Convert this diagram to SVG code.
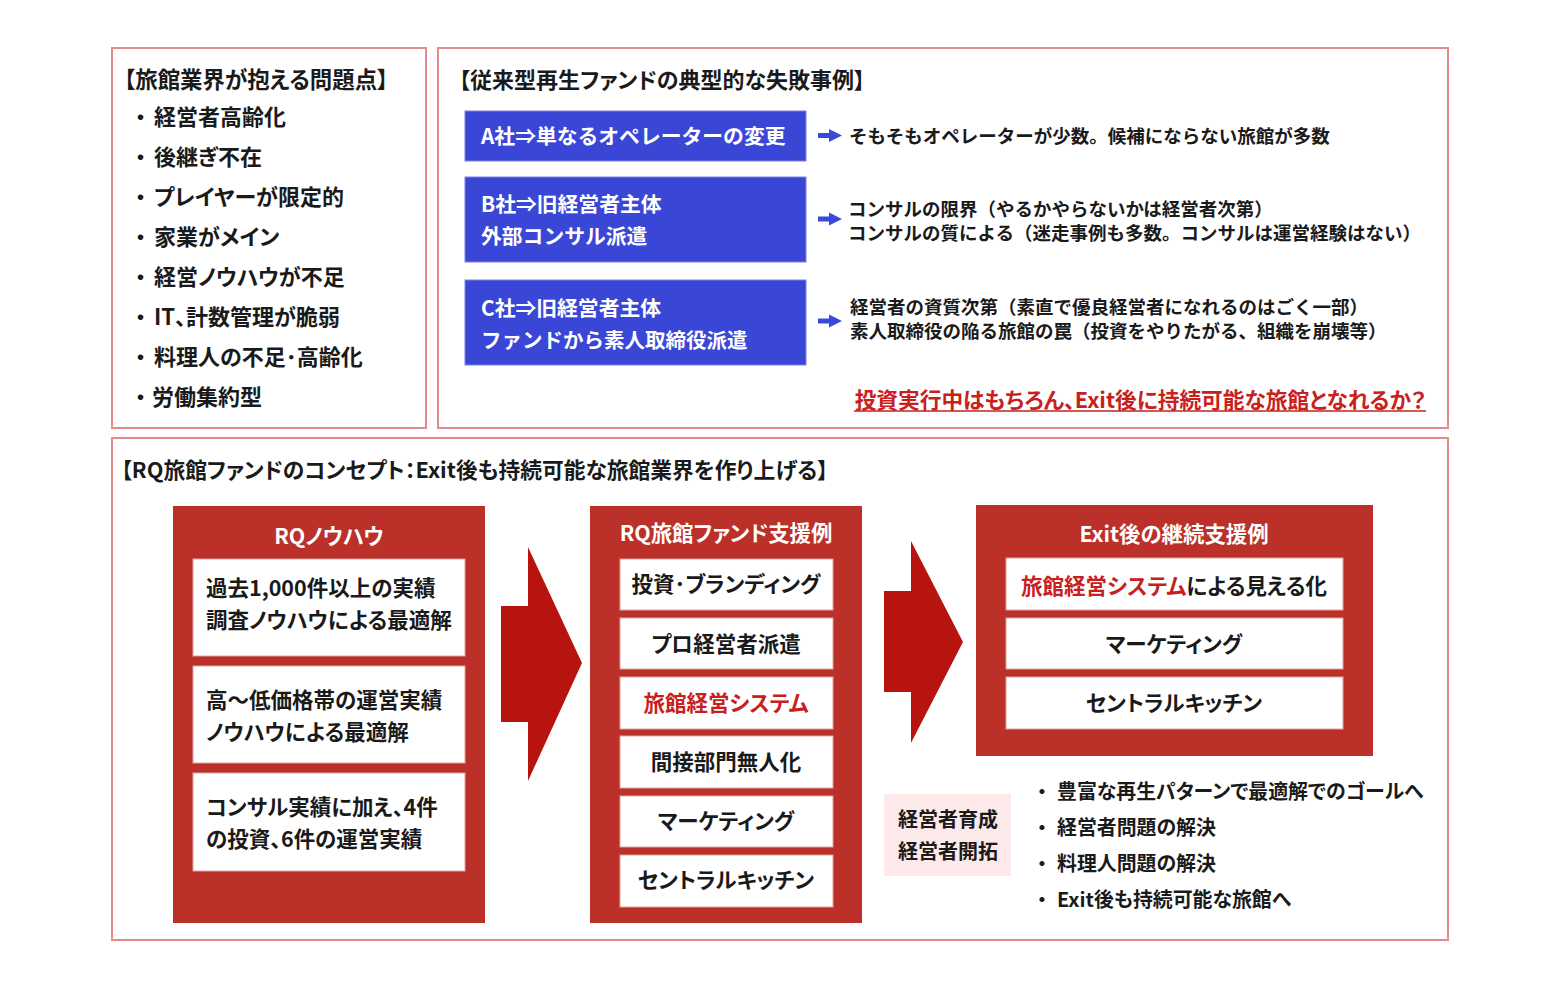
<svg xmlns="http://www.w3.org/2000/svg" width="1561" height="1000" viewBox="0 0 1561 1000">
<style>
text{font-family:"Noto Sans CJK JP","Noto Sans CJK SC",sans-serif;font-weight:700;fill:#1a1a1a;dominant-baseline:central;font-feature-settings:"palt" 1}
.frame{fill:#fff;stroke:#e38b8b;stroke-width:2}
.blue{fill:#3a47d6;stroke:#7a84e4;stroke-width:1}
.red{fill:#bb3028}
.wb{fill:#fff;stroke:#e0a39d;stroke-width:1}
.big{fill:#b8140f}
.sm{fill:#3b49db}
.t{font-size:22px}
.ti{font-size:22px}
.bw{font-size:20.8px;fill:#fff;font-feature-settings:normal}
.rt{font-size:18.5px;font-feature-settings:normal}
.hd{font-size:21.4px;fill:#fff;text-anchor:middle}
.it{font-size:21.5px;text-anchor:middle}
.kr{fill:#c8201c}
.bl{font-size:19.9px}
</style>
<rect width="1561" height="1000" fill="#fff"/>
<g id="problems">
<rect class="frame" x="112" y="48" width="314" height="380"/>
<text class="ti" x="124" y="78" style="font-size:22.45px">【旅館業界が抱える問題点】</text>
<text class="t" x="135" y="115">・</text><text class="t" x="154" y="115">経営者高齢化</text>
<text class="t" x="135" y="155">・</text><text class="t" x="154" y="155">後継ぎ不在</text>
<text class="t" x="135" y="195">・</text><text class="t" x="154" y="195">プレイヤーが限定的</text>
<text class="t" x="135" y="235">・</text><text class="t" x="154" y="235">家業がメイン</text>
<text class="t" x="135" y="275">・</text><text class="t" x="154" y="275">経営ノウハウが不足</text>
<text class="t" x="135" y="315">・</text><text class="t" x="154" y="315">IT、計数管理が脆弱</text>
<text class="t" x="135" y="355">・</text><text class="t" x="154" y="355">料理人の不足･高齢化</text>
<text class="t" x="135" y="395">・</text><text class="t" x="152" y="395">労働集約型</text>
</g>
<g id="failures">
<rect class="frame" x="438" y="48" width="1010" height="380"/>
<text class="ti" x="459" y="78">【従来型再生ファンドの典型的な失敗事例】</text>
<g id="caseA">
<rect class="blue" x="465" y="111" width="341" height="50"/>
<text class="bw" x="481" y="134.5">A社⇒単なるオペレーターの変更</text>
</g>
<g id="caseB">
<rect class="blue" x="465" y="177" width="341" height="85"/>
<text class="bw" x="481" y="202.5">B社⇒旧経営者主体</text>
<text class="bw" x="481" y="234.5">外部コンサル派遣</text>
</g>
<g id="caseC">
<rect class="blue" x="465" y="280" width="341" height="85"/>
<text class="bw" x="481" y="306.5">C社⇒旧経営者主体</text>
<text class="bw" x="481" y="338.5" style="font-size:20.5px">ファンドから素人取締役派遣</text>
</g>
<g id="resultA"><text class="rt" x="849" y="134.5">そもそもオペレーターが少数。候補にならない旅館が多数</text></g>
<g id="resultB">
<text class="rt" x="848" y="207.5">コンサルの限界（やるかやらないかは経営者次第）</text>
<text class="rt" x="848" y="231.5">コンサルの質による（迷走事例も多数。コンサルは運営経験はない）</text>
</g>
<g id="resultC">
<text class="rt" x="850" y="305.5">経営者の資質次第（素直で優良経営者になれるのはごく一部）</text>
<text class="rt" x="850" y="329.5">素人取締役の陥る旅館の罠（投資をやりたがる、組織を崩壊等）</text>
</g>
<g id="question">
<text class="t kr" x="1426" y="398" text-anchor="end" style="font-size:21.7px">投資実行中はもちろん、Exit後に持続可能な旅館となれるか？</text>
<line x1="854" y1="411" x2="1426" y2="411" stroke="#c8201c" stroke-width="1.5"/>
</g>
</g>
<g id="concept">
<rect class="frame" x="112" y="438" width="1336" height="502"/>
<text class="ti" x="121" y="468" style="font-size:21.75px">【RQ旅館ファンドのコンセプト：Exit後も持続可能な旅館業界を作り上げる】</text>
</g>
<g id="knowhow">
<rect class="red" x="173" y="506" width="312" height="417"/>
<text class="hd" x="329" y="534">RQノウハウ</text>
<rect class="wb" x="193" y="559" width="272" height="97"/>
<text class="t" x="206" y="586" style="font-size:21.5px">過去1,000件以上の実績</text>
<text class="t" x="206" y="618" style="font-size:21.5px">調査ノウハウによる最適解</text>
<rect class="wb" x="193" y="666" width="272" height="97"/>
<text class="t" x="206" y="698" style="font-size:21.5px">高～低価格帯の運営実績</text>
<text class="t" x="206" y="730" style="font-size:21.5px">ノウハウによる最適解</text>
<rect class="wb" x="193" y="773" width="272" height="98"/>
<text class="t" x="206" y="805" style="font-size:21.5px">コンサル実績に加え、4件</text>
<text class="t" x="206" y="837" style="font-size:21.5px">の投資、6件の運営実績</text>
</g>
<g id="support">
<rect class="red" x="590" y="506" width="272" height="417"/>
<text class="hd" x="726" y="531">RQ旅館ファンド支援例</text>
<rect class="wb" x="620" y="559" width="213" height="51"/>
<text class="it" x="726" y="582">投資･ブランディング</text>
<rect class="wb" x="620" y="618" width="213" height="51"/>
<text class="it" x="726" y="642">プロ経営者派遣</text>
<rect class="wb" x="620" y="677" width="213" height="52"/>
<text class="it kr" x="726" y="701">旅館経営システム</text>
<rect class="wb" x="620" y="736" width="213" height="52"/>
<text class="it" x="726" y="760">間接部門無人化</text>
<rect class="wb" x="620" y="796" width="213" height="51"/>
<text class="it" x="726" y="819">マーケティング</text>
<rect class="wb" x="620" y="855" width="213" height="52"/>
<text class="it" x="726" y="878">セントラルキッチン</text>
</g>
<g id="exit">
<rect class="red" x="976" y="505" width="397" height="251"/>
<text class="hd" x="1174" y="532">Exit後の継続支援例</text>
<rect class="wb" x="1006" y="558" width="337" height="52"/>
<text class="it" x="1174" y="584"><tspan class="kr">旅館経営システム</tspan>による見える化</text>
<rect class="wb" x="1006" y="618" width="337" height="51"/>
<text class="it" x="1174" y="642">マーケティング</text>
<rect class="wb" x="1006" y="677" width="337" height="52"/>
<text class="it" x="1174" y="701">セントラルキッチン</text>
</g>
<g id="training">
<rect x="884" y="794" width="127" height="82" fill="#fde9e9"/>
<text class="t" x="898" y="818" style="font-size:20px">経営者育成</text>
<text class="t" x="898" y="850" style="font-size:20px">経営者開拓</text>
</g>
<g id="outcomes">
<text class="bl" x="1037" y="790">・</text><text class="bl" x="1057" y="790">豊富な再生パターンで最適解でのゴールへ</text>
<text class="bl" x="1037" y="826">・</text><text class="bl" x="1057" y="826">経営者問題の解決</text>
<text class="bl" x="1037" y="862">・</text><text class="bl" x="1057" y="862">料理人問題の解決</text>
<text class="bl" x="1037" y="898">・</text><text class="bl" x="1057" y="898">Exit後も持続可能な旅館へ</text>
</g>
<g id="connectors">
<path class="sm" d="M818,133 H829 V129 L842,135.5 L829,142 V138 H818 Z"/>
<path class="sm" d="M818,216.5 H829 V212.5 L842,219 L829,225.5 V221.5 H818 Z"/>
<path class="sm" d="M818,318.5 H829 V314.5 L842,321 L829,327.5 V323.5 H818 Z"/>
<polygon class="big" points="501,606 528,606 528,547 582,663 528,781 528,722 501,722"/>
<polygon class="big" points="884,591 911,591 911,541 963,642 911,743 911,692 884,692"/>
</g>
</svg>
